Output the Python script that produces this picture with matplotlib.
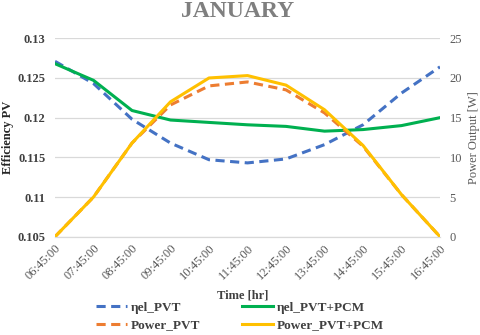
import matplotlib
matplotlib.use("Agg")
from matplotlib import pyplot as plt

plt.rcParams['font.family'] = ['Liberation Serif', 'DejaVu Serif']

times = ["06:45:00", "07:45:00", "08:45:00", "09:45:00", "10:45:00", "11:45:00",
         "12:45:00", "13:45:00", "14:45:00", "15:45:00", "16:45:00"]

# electrical efficiency
eta_pvt = [0.1271, 0.1243, 0.1198, 0.1168, 0.1147, 0.1143, 0.1148, 0.1166, 0.1191, 0.1231, 0.1264]
eta_pvt_pcm = [0.1268, 0.1247, 0.1209, 0.1197, 0.1194, 0.1191, 0.1189, 0.1183, 0.1185, 0.1190, 0.1200]

# power output [W]
power_pvt = [0.0, 5.0, 11.8, 16.6, 19.0, 19.5, 18.5, 15.6, 11.4, 5.3, 0.0]
power_pvt_pcm = [0.0, 5.0, 11.8, 17.0, 20.0, 20.3, 19.1, 16.0, 11.5, 5.3, 0.0]

x = list(range(len(times)))

fig = plt.figure(figsize=(4.8, 3.35), dpi=100)
ax = fig.add_axes([0.1146, 0.2934, 0.8021, 0.5923])
ax2 = ax.twinx()

grid_c = "#d9d9d9"
txt_c = "#404040"

l1, = ax.plot(x, eta_pvt, color="#4472C4", lw=2.2, dashes=(3, 1.8), label="ηel_PVT")
l2, = ax.plot(x, eta_pvt_pcm, color="#00B050", lw=2.2, label="ηel_PVT+PCM")
l3, = ax2.plot(x, power_pvt, color="#ED7D31", lw=2.2, dashes=(3, 1.8), label="Power_PVT")
l4, = ax2.plot(x, power_pvt_pcm, color="#FFC000", lw=2.2, label="Power_PVT+PCM")

ax.set_xlim(0, 10)
ax.set_ylim(0.105, 0.13)
ax.set_yticks([0.105, 0.11, 0.115, 0.12, 0.125, 0.13])
ax.set_yticklabels(["0.105", "0.11", "0.115", "0.12", "0.125", "0.13"],
                   fontweight="bold", color=txt_c, fontsize=9)
ax2.set_ylim(0, 25)
ax2.set_yticks([0, 5, 10, 15, 20, 25])
ax2.set_yticklabels(["0", "5", "10", "15", "20", "25"], color="#595959", fontsize=9)

ax.set_xticks(x)
ax.set_xticklabels(times, rotation=45, ha="right", rotation_mode="anchor",
                   color="#595959", fontsize=9)

ax.yaxis.grid(True, color=grid_c, lw=0.9)
ax.set_axisbelow(True)
for a in (ax, ax2):
    for s in ("top", "left", "right"):
        a.spines[s].set_visible(False)
    a.spines["bottom"].set_color(grid_c)
    a.tick_params(length=0)
ax.tick_params(axis="x", pad=4)
ax.tick_params(axis="y", pad=7)
ax2.tick_params(axis="y", pad=7)

fig.text(0.016, 0.59, "Efficiency PV", rotation=90, ha="center", va="center",
         fontweight="bold", color="#262626", fontsize=9)
fig.text(0.988, 0.59, "Power Output [W]", rotation=90, ha="center", va="center",
         color="#595959", fontsize=9)

fig.text(0.495, 0.965, "JANUARY", ha="center", va="center", fontsize=17,
         fontweight="bold", color="#7f7f7f")
fig.text(0.505, 0.118, "Time [hr]", ha="center", va="center", fontsize=9,
         fontweight="bold", color=txt_c)

leg = fig.legend([l1, l3, l2, l4], [l1.get_label(), l3.get_label(), l2.get_label(), l4.get_label()],
                 ncol=2, loc="lower center", bbox_to_anchor=(0.5, -0.025), frameon=False,
                 handlelength=2.3, columnspacing=3.2, handletextpad=0.3, labelspacing=0.4,
                 prop={"weight": "bold", "size": 9.5})
for t in leg.get_texts():
    t.set_color(txt_c)

fig.savefig("out.png", dpi=100)
